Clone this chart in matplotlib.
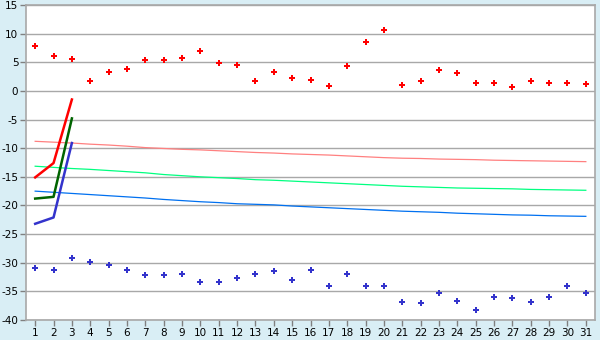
import matplotlib
matplotlib.use("Agg")
import matplotlib.pyplot as plt

plt.rcParams["axes.unicode_minus"] = False

days = list(range(1, 32))

# scattered points
upper_pts = [7.8, 6.1, 5.5, 1.7, 3.3, 3.8, 5.4, 5.4, 5.7, 6.9,
             4.8, 4.5, 1.7, 3.3, 2.2, 1.9, 0.8, 4.3, 8.5, 10.6,
             1.0, 1.7, 3.6, 3.1, 1.35, 1.35, 0.65, 1.7, 1.35, 1.35, 1.2]
lower_pts = [-31.0, -31.2, -29.2, -29.9, -30.4, -31.2, -32.2, -32.2, -32.0, -33.3,
             -33.4, -32.6, -32.0, -31.5, -33.1, -31.3, -34.0, -31.9, -34.0, -34.1,
             -36.8, -37.1, -35.2, -36.6, -38.3, -35.9, -36.2, -36.9, -36.0, -34.1, -35.2]

# thin trend lines
pink_line = [-8.8, -8.95, -9.1, -9.3, -9.45, -9.65, -9.9, -10.05, -10.2, -10.3,
             -10.45, -10.6, -10.75, -10.85, -11.0, -11.1, -11.2, -11.35, -11.5, -11.65,
             -11.75, -11.8, -11.9, -11.95, -12.0, -12.1, -12.15, -12.2, -12.25, -12.3, -12.35]
mint_line = [-13.15, -13.35, -13.55, -13.7, -13.9, -14.1, -14.3, -14.6, -14.8, -15.0,
             -15.15, -15.3, -15.5, -15.6, -15.75, -15.9, -16.05, -16.2, -16.35, -16.5,
             -16.65, -16.75, -16.85, -16.95, -17.0, -17.05, -17.1, -17.2, -17.25, -17.3, -17.35]
azure_line = [-17.5, -17.7, -17.9, -18.1, -18.3, -18.5, -18.7, -18.95, -19.15, -19.35,
              -19.5, -19.7, -19.8, -19.9, -20.1, -20.25, -20.4, -20.55, -20.7, -20.85,
              -21.0, -21.1, -21.2, -21.35, -21.45, -21.55, -21.65, -21.7, -21.8, -21.85, -21.9]

# short thick lines (first three days)
red_short = [-15.1, -12.6, -1.5]
green_short = [-18.8, -18.5, -4.8]
blue_short = [-23.2, -22.1, -9.1]

fig = plt.figure(figsize=(6, 3.4), dpi=100, facecolor="#D9EEF5")
ax = fig.add_axes([26 / 600, 1 - 320 / 340, 569 / 600, 315 / 340])
ax.set_facecolor("white")

ax.plot(days, pink_line, color="#FF8080", lw=0.9)
ax.plot(days, mint_line, color="#00FF80", lw=0.9)
ax.plot(days, azure_line, color="#0070F0", lw=0.9)

ax.plot(days[:3], red_short, color="#FF0000", lw=1.8)
ax.plot(days[:3], green_short, color="#006400", lw=1.8)
ax.plot(days[:3], blue_short, color="#3333CC", lw=1.8)

ax.plot(days, upper_pts, ls="none", marker="P", ms=4.5, color="#FF0000", mew=0)
ax.plot(days, lower_pts, ls="none", marker="P", ms=4.5, color="#3333CC", mew=0)

ax.set_xlim(0.5, 31.5)
ax.set_ylim(-40, 15)
ax.set_yticks(range(-40, 16, 5))
ax.set_xticks(days)
ax.yaxis.grid(True, color="#A8A8A8", lw=1)
ax.set_axisbelow(True)
for s in ax.spines.values():
    s.set_color("#A8A8A8")
    s.set_linewidth(1.2)
ax.tick_params(axis="both", colors="#808080", labelcolor="black", labelsize=7.5,
               length=4, width=1)
ax.tick_params(axis="x", pad=2)
ax.tick_params(axis="y", pad=1.5)

fig.savefig("out.png", dpi=100, facecolor=fig.get_facecolor())
